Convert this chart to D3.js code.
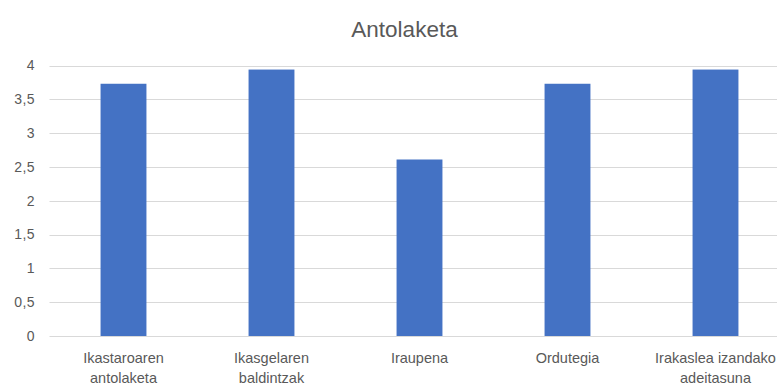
<!DOCTYPE html>
<html>
<head>
<meta charset="utf-8">
<script src="https://cdn.jsdelivr.net/npm/d3@7"></script>
<style>
  html, body { margin: 0; padding: 0; background: #fff; overflow: hidden; }
  svg { display: block; font-family: "Liberation Sans", Arial, sans-serif; }
</style>
</head>
<body>
<svg id="chart" width="777" height="385"></svg>
<script>
// Category labels (each split into lines) and their average scores
const categories = [
  ["Ikastaroaren", "antolaketa"],
  ["Ikasgelaren", "baldintzak"],
  ["Iraupena"],
  ["Ordutegia"],
  ["Irakaslea izandako", "adeitasuna"]
];
const values = [3.73, 3.94, 2.61, 3.73, 3.94];
const yTicks = [0, 0.5, 1, 1.5, 2, 2.5, 3, 3.5, 4];
const title = "Antolaketa";

const svg = d3.select("#chart");
const plot = { left: 49.5, right: 789.5, top: 65.5, bottom: 336 };

const x = d3.scaleBand()
  .domain(d3.range(categories.length))
  .range([plot.left, plot.right])
  .paddingInner(0.69)
  .paddingOuter(0.345);

const y = d3.scaleLinear()
  .domain([0, 4])
  .range([plot.bottom, plot.top]);

const fmt = d => String(d).replace(".", ",");

// gridlines
svg.append("g")
  .selectAll("line")
  .data(yTicks)
  .join("line")
  .attr("x1", plot.left)
  .attr("x2", plot.right)
  .attr("y1", d => Math.round(y(d)) + 0.5)
  .attr("y2", d => Math.round(y(d)) + 0.5)
  .attr("stroke", "#d9d9d9")
  .attr("stroke-width", 1);

// y axis tick labels
svg.append("g")
  .selectAll("text")
  .data(yTicks)
  .join("text")
  .attr("x", 35)
  .attr("y", d => y(d))
  .attr("dy", "0.35em")
  .attr("text-anchor", "end")
  .attr("fill", "#595959")
  .attr("font-size", 14)
  .attr("letter-spacing", 0.4)
  .text(fmt);

// bars
svg.append("g")
  .selectAll("rect")
  .data(values)
  .join("rect")
  .attr("x", (d, i) => x(i))
  .attr("width", x.bandwidth())
  .attr("y", d => y(d))
  .attr("height", d => y(0) - y(d))
  .attr("fill", "#4472c4");

// x axis category labels
const lab = svg.append("g")
  .selectAll("text")
  .data(categories)
  .join("text")
  .attr("text-anchor", "middle")
  .attr("fill", "#595959")
  .attr("font-size", 14.5)
  .attr("x", (d, i) => x(i) + x.bandwidth() / 2)
  .attr("y", 363);
lab.selectAll("tspan")
  .data(d => d)
  .join("tspan")
  .attr("x", function () { return d3.select(this.parentNode).attr("x"); })
  .attr("dy", (d, i) => i === 0 ? 0 : 20)
  .text(d => d);

// title
svg.append("text")
  .attr("x", 404.5)
  .attr("y", 37)
  .attr("text-anchor", "middle")
  .attr("fill", "#595959")
  .attr("font-size", 22.5)
  .text(title);
</script>
</body>
</html>
